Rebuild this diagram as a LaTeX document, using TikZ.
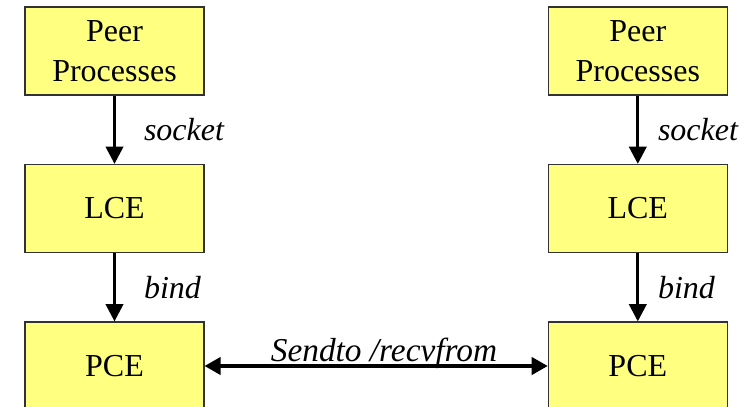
\documentclass[tikz,border=0pt]{standalone}
\usepackage{fontspec}
\setmainfont{Liberation Serif}
\usepackage{tikz}
\usetikzlibrary{arrows.meta,positioning}

\definecolor{boxfill}{RGB}{255,255,128}
\definecolor{boxline}{RGB}{50,50,50}

\tikzset{
  block/.style={draw=boxline, line width=0.9pt, fill=boxfill, minimum width=134.25pt, minimum height=66pt, inner sep=0pt, align=center, font=\fontsize{24}{30}\selectfont},
  flow/.style={line width=2.3pt, -{Triangle[width=13pt,length=13pt]}},
  flows/.style={line width=2.3pt, {Triangle[width=13pt,length=12pt]}-{Triangle[width=13pt,length=12pt]}},
  call/.style={inner sep=0pt, font=\fontsize{24}{30}\selectfont\itshape}
}

\begin{document}
\begin{tikzpicture}[x=0.75pt,y=0.75pt,yscale=-1,xscale=1]
\useasboundingbox (0,0) rectangle (747,407);
\clip (0,0) rectangle (747,407);

%Shape: left stack
\node [block] (peerL) at (114.5,51) {Peer\\Processes};
\node [block] (lceL) at (114.5,208.5) {LCE};
\node [block] (pceL) at (114.5,366) {PCE};

%Shape: right stack
\node [block] (peerR) at (637.8,51) {Peer\\Processes};
\node [block] (lceR) at (637.8,208.5) {LCE};
\node [block] (pceR) at (637.8,366) {PCE};

%Straight Lines
\draw [flow] (peerL) -- node [call, right=21pt] {socket} (lceL);
\draw [flow] (lceL) -- node [call, right=21pt] {bind} (pceL);
\draw [flow] (peerR) -- node [call, right=14pt] {socket} (lceR);
\draw [flow] (lceR) -- node [call, right=14pt] {bind} (pceR);
\draw [flows] (pceL) -- (pceR);

% Text Node
\node [call, anchor=base, font=\fontsize{25}{30}\selectfont\itshape] (sendrecv) at (384,361) {Sendto /recvfrom};

\end{tikzpicture}
\end{document}
